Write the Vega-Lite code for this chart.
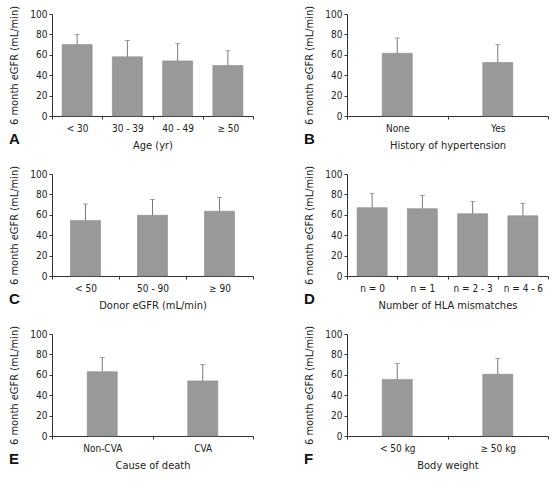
{
  "$schema": "https://vega.github.io/schema/vega-lite/v6.json",
  "background": "white",
  "padding": {"left": 8, "top": 5, "right": 5, "bottom": 5},
  "data": {"values": [
    {"panel": "A", "cat": "< 30", "mean": 70, "upper": 80},
    {"panel": "A", "cat": "30 - 39", "mean": 58, "upper": 74},
    {"panel": "A", "cat": "40 - 49", "mean": 54, "upper": 71},
    {"panel": "A", "cat": "≥ 50", "mean": 49.5, "upper": 64},
    {"panel": "B", "cat": "None", "mean": 61.5, "upper": 76.5},
    {"panel": "B", "cat": "Yes", "mean": 52.5, "upper": 70},
    {"panel": "C", "cat": "< 50", "mean": 54.5, "upper": 70.5},
    {"panel": "C", "cat": "50 - 90", "mean": 59.5, "upper": 75},
    {"panel": "C", "cat": "≥ 90", "mean": 63.5, "upper": 77},
    {"panel": "D", "cat": "n = 0", "mean": 67, "upper": 81},
    {"panel": "D", "cat": "n = 1", "mean": 66, "upper": 79},
    {"panel": "D", "cat": "n = 2 - 3", "mean": 61, "upper": 73},
    {"panel": "D", "cat": "n = 4 - 6", "mean": 59, "upper": 71},
    {"panel": "E", "cat": "Non-CVA", "mean": 63, "upper": 77},
    {"panel": "E", "cat": "CVA", "mean": 54, "upper": 70},
    {"panel": "F", "cat": "< 50 kg", "mean": 55.5, "upper": 71},
    {"panel": "F", "cat": "≥ 50 kg", "mean": 60.5, "upper": 76}
  ]},
  "bounds": "flush",
  "columns": 2,
  "spacing": {"row": 58, "column": 94},
  "concat": [
    {"width": 201, "height": 102,
     "title": {"text": "A"},
     "transform": [{"filter": "datum.panel === 'A'"}],
     "encoding": {"x": {"field": "cat", "type": "nominal", "sort": null, "title": "Age (yr)", "scale": {"paddingInner": 0, "paddingOuter": 0}}},
     "layer": [
       {"mark": {"type": "bar", "size": 30, "color": "#999999", "stroke": "#8a8a8a", "strokeWidth": 0.6}, "encoding": {"y": {"field": "mean", "type": "quantitative", "title": "6 month eGFR (mL/min)", "scale": {"domain": [0, 100]}}}},
       {"mark": {"type": "rule", "color": "#7a7a7a", "strokeWidth": 1}, "encoding": {"y": {"field": "mean", "type": "quantitative", "title": "6 month eGFR (mL/min)"}, "y2": {"field": "upper"}}},
       {"mark": {"type": "tick", "size": 5, "thickness": 1, "color": "#7a7a7a"}, "encoding": {"y": {"field": "upper", "type": "quantitative", "title": "6 month eGFR (mL/min)"}}}
     ]},
    {"width": 201, "height": 102,
     "title": {"text": "B"},
     "transform": [{"filter": "datum.panel === 'B'"}],
     "encoding": {"x": {"field": "cat", "type": "nominal", "sort": null, "title": "History of hypertension", "scale": {"paddingInner": 0, "paddingOuter": 0}}},
     "layer": [
       {"mark": {"type": "bar", "size": 30, "color": "#999999", "stroke": "#8a8a8a", "strokeWidth": 0.6}, "encoding": {"y": {"field": "mean", "type": "quantitative", "title": "6 month eGFR (mL/min)", "scale": {"domain": [0, 100]}}}},
       {"mark": {"type": "rule", "color": "#7a7a7a", "strokeWidth": 1}, "encoding": {"y": {"field": "mean", "type": "quantitative", "title": "6 month eGFR (mL/min)"}, "y2": {"field": "upper"}}},
       {"mark": {"type": "tick", "size": 5, "thickness": 1, "color": "#7a7a7a"}, "encoding": {"y": {"field": "upper", "type": "quantitative", "title": "6 month eGFR (mL/min)"}}}
     ]},
    {"width": 201, "height": 102,
     "title": {"text": "C"},
     "transform": [{"filter": "datum.panel === 'C'"}],
     "encoding": {"x": {"field": "cat", "type": "nominal", "sort": null, "title": "Donor eGFR (mL/min)", "scale": {"paddingInner": 0, "paddingOuter": 0}}},
     "layer": [
       {"mark": {"type": "bar", "size": 30, "color": "#999999", "stroke": "#8a8a8a", "strokeWidth": 0.6}, "encoding": {"y": {"field": "mean", "type": "quantitative", "title": "6 month eGFR (mL/min)", "scale": {"domain": [0, 100]}}}},
       {"mark": {"type": "rule", "color": "#7a7a7a", "strokeWidth": 1}, "encoding": {"y": {"field": "mean", "type": "quantitative", "title": "6 month eGFR (mL/min)"}, "y2": {"field": "upper"}}},
       {"mark": {"type": "tick", "size": 5, "thickness": 1, "color": "#7a7a7a"}, "encoding": {"y": {"field": "upper", "type": "quantitative", "title": "6 month eGFR (mL/min)"}}}
     ]},
    {"width": 201, "height": 102,
     "title": {"text": "D"},
     "transform": [{"filter": "datum.panel === 'D'"}],
     "encoding": {"x": {"field": "cat", "type": "nominal", "sort": null, "title": "Number of HLA mismatches", "scale": {"paddingInner": 0, "paddingOuter": 0}}},
     "layer": [
       {"mark": {"type": "bar", "size": 30, "color": "#999999", "stroke": "#8a8a8a", "strokeWidth": 0.6}, "encoding": {"y": {"field": "mean", "type": "quantitative", "title": "6 month eGFR (mL/min)", "scale": {"domain": [0, 100]}}}},
       {"mark": {"type": "rule", "color": "#7a7a7a", "strokeWidth": 1}, "encoding": {"y": {"field": "mean", "type": "quantitative", "title": "6 month eGFR (mL/min)"}, "y2": {"field": "upper"}}},
       {"mark": {"type": "tick", "size": 5, "thickness": 1, "color": "#7a7a7a"}, "encoding": {"y": {"field": "upper", "type": "quantitative", "title": "6 month eGFR (mL/min)"}}}
     ]},
    {"width": 201, "height": 102,
     "title": {"text": "E"},
     "transform": [{"filter": "datum.panel === 'E'"}],
     "encoding": {"x": {"field": "cat", "type": "nominal", "sort": null, "title": "Cause of death", "scale": {"paddingInner": 0, "paddingOuter": 0}}},
     "layer": [
       {"mark": {"type": "bar", "size": 30, "color": "#999999", "stroke": "#8a8a8a", "strokeWidth": 0.6}, "encoding": {"y": {"field": "mean", "type": "quantitative", "title": "6 month eGFR (mL/min)", "scale": {"domain": [0, 100]}}}},
       {"mark": {"type": "rule", "color": "#7a7a7a", "strokeWidth": 1}, "encoding": {"y": {"field": "mean", "type": "quantitative", "title": "6 month eGFR (mL/min)"}, "y2": {"field": "upper"}}},
       {"mark": {"type": "tick", "size": 5, "thickness": 1, "color": "#7a7a7a"}, "encoding": {"y": {"field": "upper", "type": "quantitative", "title": "6 month eGFR (mL/min)"}}}
     ]},
    {"width": 201, "height": 102,
     "title": {"text": "F"},
     "transform": [{"filter": "datum.panel === 'F'"}],
     "encoding": {"x": {"field": "cat", "type": "nominal", "sort": null, "title": "Body weight", "scale": {"paddingInner": 0, "paddingOuter": 0}}},
     "layer": [
       {"mark": {"type": "bar", "size": 30, "color": "#999999", "stroke": "#8a8a8a", "strokeWidth": 0.6}, "encoding": {"y": {"field": "mean", "type": "quantitative", "title": "6 month eGFR (mL/min)", "scale": {"domain": [0, 100]}}}},
       {"mark": {"type": "rule", "color": "#7a7a7a", "strokeWidth": 1}, "encoding": {"y": {"field": "mean", "type": "quantitative", "title": "6 month eGFR (mL/min)"}, "y2": {"field": "upper"}}},
       {"mark": {"type": "tick", "size": 5, "thickness": 1, "color": "#7a7a7a"}, "encoding": {"y": {"field": "upper", "type": "quantitative", "title": "6 month eGFR (mL/min)"}}}
     ]}
  ],
  "config": {
    "font": "Liberation Sans Narrow, DejaVu Sans Condensed, sans-serif",
    "view": {"stroke": null},
    "title": {"orient": "bottom", "anchor": "start", "frame": "group", "dx": -43, "offset": -18, "fontSize": 15, "fontWeight": "bold", "color": "#111", "font": "Liberation Sans, Arial, sans-serif", "baseline": "alphabetic"},
    "axis": {"grid": false, "domainColor": "#333333", "tickColor": "#333333", "tickSize": 3, "labelFontSize": 10, "titleFontSize": 11, "titleFontWeight": "normal", "labelColor": "#222222", "titleColor": "#222222", "labelFont": "Liberation Sans Narrow, DejaVu Sans Condensed, sans-serif", "titleFont": "Liberation Sans Narrow, DejaVu Sans Condensed, sans-serif"},
    "axisX": {"tickBand": "extent", "labelAngle": 0, "labelPadding": 4, "titlePadding": 6},
    "axisY": {"tickCount": 5, "labelPadding": 2, "titlePadding": 10}
  }
}
